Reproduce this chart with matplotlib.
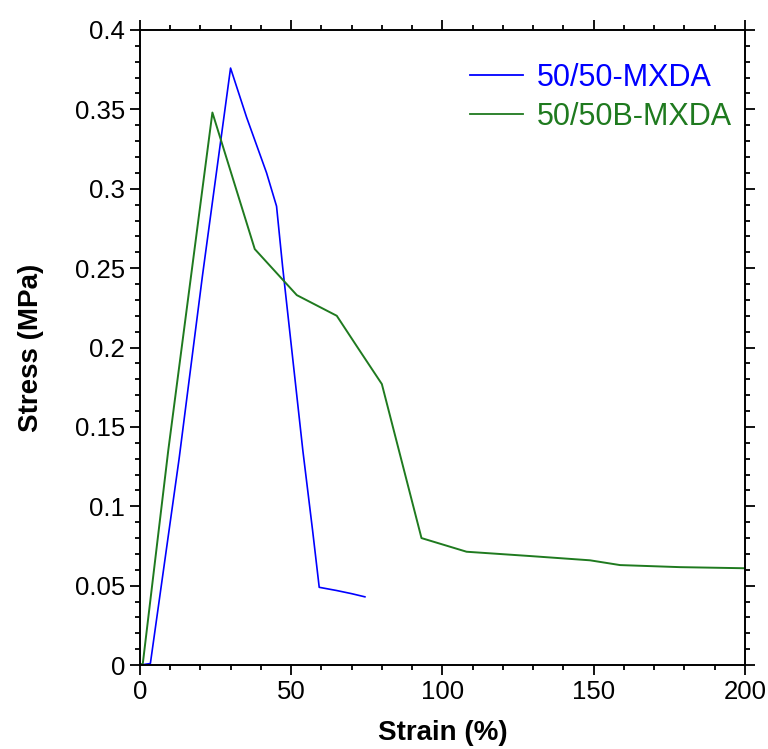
import matplotlib
matplotlib.use('Agg')
import matplotlib.pyplot as plt
from matplotlib.ticker import MultipleLocator, FormatStrFormatter

# 50/50-MXDA
strain_a = [0, 3.5, 13, 20.7, 30.0, 35.3, 41.9, 45.2, 47.2, 53.9, 57.1, 59.3, 65, 70, 74.4]
stress_a = [0, 0.001, 0.130, 0.245, 0.376, 0.345, 0.310, 0.289, 0.251, 0.135, 0.085, 0.049, 0.047, 0.045, 0.043]

# 50/50B-MXDA
strain_b = [0, 1.0, 9.4, 24.0, 38.0, 51.9, 65.1, 72, 80.0, 93.1, 108.0, 128.9, 148.8, 158.7, 178.5, 200]
stress_b = [0, 0.001, 0.135, 0.348, 0.262, 0.233, 0.220, 0.200, 0.177, 0.080, 0.0714, 0.0687, 0.066, 0.063, 0.0617, 0.061]

labels = ['50/50-MXDA', '50/50B-MXDA']
colors = ['#0000ff', '#1f7a1f']

plt.rcParams['font.family'] = ['Liberation Sans', 'DejaVu Sans']

fig = plt.figure(figsize=(7.68, 7.49), dpi=100)
ax = fig.add_axes([0.182, 0.112, 0.788, 0.848])

ax.plot(strain_a, stress_a, color=colors[0], lw=1.2, label=labels[0])
ax.plot(strain_b, stress_b, color=colors[1], lw=1.4, label=labels[1])

ax.set_xlim(0, 200)
ax.set_ylim(0, 0.4)
ax.xaxis.set_major_locator(MultipleLocator(50))
ax.xaxis.set_minor_locator(MultipleLocator(10))
ax.yaxis.set_major_locator(MultipleLocator(0.05))
ax.yaxis.set_minor_locator(MultipleLocator(0.01))
ax.yaxis.set_major_formatter(FormatStrFormatter('%g'))
ax.tick_params(which='both', direction='out', top=True, right=True, width=1.3)
ax.tick_params(which='major', length=7, labelsize=18.5, pad=3.5)
ax.tick_params(which='minor', length=3.5)
for s in ax.spines.values():
    s.set_linewidth(1.4)

ax.set_xlabel('Strain (%)', fontsize=20, fontweight='bold', labelpad=12)
ax.set_ylabel('Stress (MPa)', fontsize=20, fontweight='bold', labelpad=22)

leg = ax.legend(loc='center left', bbox_to_anchor=(0.545, 0.894), frameon=False,
                fontsize=22, handlelength=1.75, handletextpad=0.45,
                labelspacing=0.28, borderpad=0, borderaxespad=0,
                labelcolor='linecolor')
for h in leg.get_lines():
    h.set_linewidth(1.3)

fig.savefig('out.png', dpi=100)
